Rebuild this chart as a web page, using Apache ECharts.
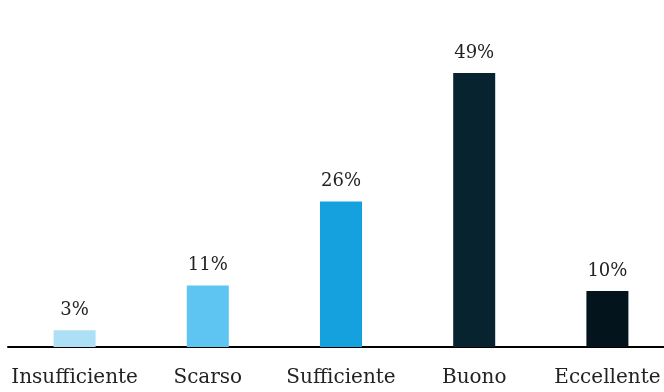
<!DOCTYPE html>
<html>
<head>
<meta charset="utf-8">
<script src="https://cdn.jsdelivr.net/npm/echarts@6/dist/echarts.min.js"></script>
<style>
  html, body { margin: 0; padding: 0; background: #fff; }
  #chart { width: 664px; height: 392px; }
</style>
</head>
<body>
<div id="chart"></div>
<script>
const categories = ['Insufficiente', 'Scarso', 'Sufficiente', 'Buono', 'Eccellente'];
const values = [3, 11, 26, 49, 10];
const barColors = ['#ade0f7', '#5ec4f2', '#15a0de', '#072330', '#03141c'];

const chart = echarts.init(document.getElementById('chart'));
chart.setOption({
  animation: false,
  grid: { left: 8, top: 73, width: 666, bottom: 45, outerBoundsMode: 'none', containLabel: false },
  xAxis: {
    type: 'category',
    data: categories,
    axisLine: { lineStyle: { color: '#000', width: 2 } },
    axisTick: { show: false },
    axisLabel: {
      color: '#222',
      fontFamily: 'DejaVu Serif',
      fontSize: 20,
      margin: 21,
      interval: 0
    }
  },
  yAxis: {
    type: 'value',
    min: 0,
    max: 49,
    show: false
  },
  series: [{
    type: 'bar',
    barWidth: 42,
    data: values.map((v, i) => ({ value: v, itemStyle: { color: barColors[i] } })),
    label: {
      show: true,
      position: 'top',
      distance: 11,
      formatter: p => p.value + '%',
      color: '#222',
      fontFamily: 'DejaVu Serif',
      fontSize: 18
    }
  }]
});
</script>
</body>
</html>
